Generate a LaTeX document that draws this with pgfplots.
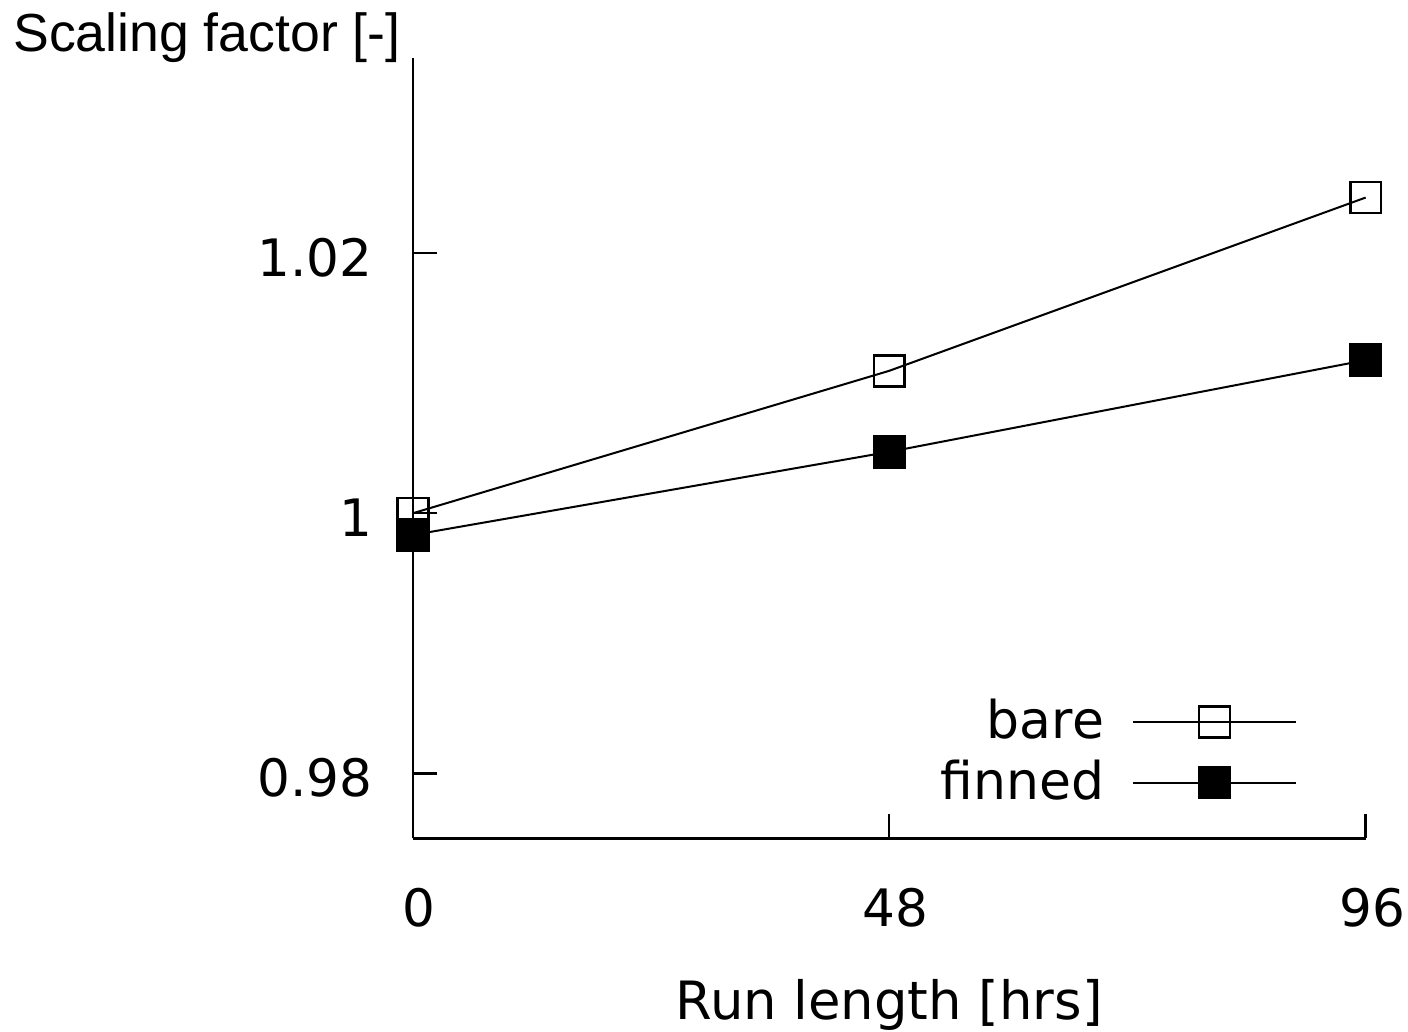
\documentclass[border=0pt]{standalone}
\usepackage{fontspec}
\setmainfont{DejaVu Sans}
\newfontfamily\arialfont{Liberation Sans}
\usepackage{pgfplots}
\pgfplotsset{compat=1.18}
\begin{document}
\begin{tikzpicture}
\useasboundingbox (-103.2pt,-48.2pt) rectangle (248.8pt,209.6pt);
\begin{axis}[
  at={(0pt,0pt)}, anchor=south west,
  scale only axis, width=238.2pt, height=195.1pt,
  xmin=0, xmax=96, ymin=0.975, ymax=1.035,
  axis x line*=bottom, axis y line*=left,
  tick pos=left,
  tick align=inside, major tick length=6pt,
  xtick={0,48,96}, ytick={0.98,1,1.02}, yticklabels={0.98,1,1.02},
  axis line style={line width=0.6pt, black},
  tick style={line width=0.6pt, black},
  /pgf/number format/assume math mode=true,
  xticklabel style={font=\fontsize{12.9}{16}\selectfont, anchor=north, inner sep=0pt, yshift=-12.2pt, xshift=1.6pt},
  yticklabel style={font=\fontsize{12.9}{16}\selectfont, anchor=east, inner sep=0pt, xshift=-9.9pt, yshift=-1.1pt},
  xlabel={Run length [hrs]}, ylabel={Scaling factor [-]},
  every axis x label/.style={at={(rel axis cs:0.5,0)}, anchor=base, inner sep=0pt, yshift=-45.2pt, font=\fontsize{13.2}{16}\selectfont},
  every axis y label/.style={at={(rel axis cs:0,0)}, anchor=base west, inner sep=0pt, xshift=-100.05pt, yshift=196.8pt, font=\arialfont\fontsize{13.4}{16}\selectfont},
  clip=false,
  legend plot pos=right, legend cell align=right,
  legend style={draw=none, fill=none, inner sep=0pt, at={(axis cs:89.15,0.98161)}, anchor=east, column sep=7pt, row sep=3.75pt, font=\fontsize{13}{16}\selectfont, nodes={inner sep=0pt}},
  legend image code/.code={\draw[mark repeat=2,mark phase=2,#1] plot coordinates {(0pt,0pt)(20.35pt,0pt)(40.7pt,0pt)};},
]
\addplot[black, line width=0.5pt, mark=square, mark size=3.85pt, mark options={line width=0.65pt, solid}] coordinates {(0,1.0000)(48,1.01095)(96,1.02427)};
\addlegendentry{bare}
\addplot[black, line width=0.5pt, mark=square*, mark size=3.85pt, mark options={line width=0.65pt, fill=black, solid}] coordinates {(0,0.99833)(48,1.00472)(96,1.01177)};
\addlegendentry{finned}
\end{axis}
\end{tikzpicture}
\end{document}
